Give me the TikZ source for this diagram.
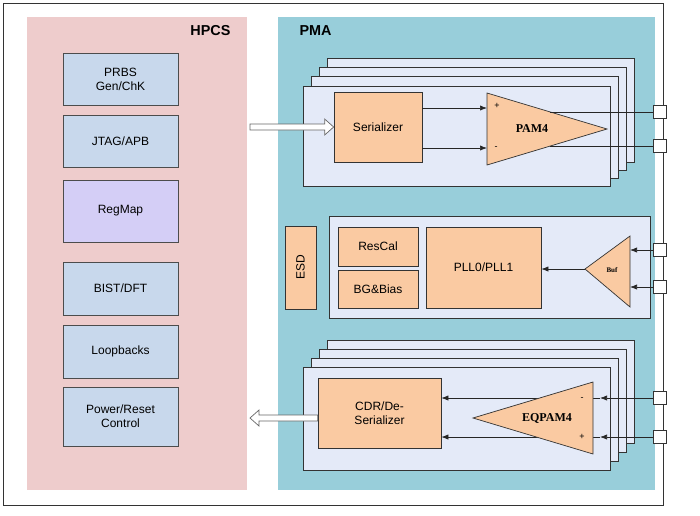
\documentclass[tikz,border=0pt]{standalone}
\usepackage{fontspec}
\setmainfont{Liberation Sans}
\newfontfamily\tms{Liberation Serif}
\usetikzlibrary{calc}
\usetikzlibrary{positioning}
\usetikzlibrary{arrows.meta}

\definecolor{hpcspink}{RGB}{238,204,204}
\definecolor{pmacyan}{RGB}{152,206,218}
\definecolor{blkblue}{RGB}{200,216,236}
\definecolor{blklav}{RGB}{212,206,246}
\definecolor{lane}{RGB}{228,234,248}
\definecolor{orng}{RGB}{250,202,162}

\tikzset{
  hblk/.style={draw=black!70, line width=0.7pt, fill=blkblue, minimum width=115pt, align=center, font=\large},
  oblk/.style={draw=black!80, line width=0.7pt, fill=orng, align=center, font=\large},
  lanebox/.style={draw=black!80, line width=0.9pt, fill=lane},
  pad/.style={draw=black!80, line width=0.7pt, fill=white, minimum size=13pt, inner sep=0pt},
  sig/.style={-{Latex[length=7pt]}, black!85, line width=0.7pt},
  bus/.style={draw=black!60, fill=white, line width=0.7pt}
}

\begin{document}
\begin{tikzpicture}[x=1pt, y=-1pt]
    \useasboundingbox (0,0) rectangle (700,515);
    \draw[black!80, line width=0.8pt] (3,3) rectangle (663,505);

    % regions
    \fill[hpcspink] (27,17) rectangle (247,490);
    \fill[pmacyan] (278,17) rectangle (655,490);
    \node[font=\Large\bfseries, anchor=north east] (hpcs) at (234,22) {HPCS};
    \node[font=\Large\bfseries, anchor=north west] (pma) at (296,22) {PMA};

    % HPCS blocks
    \node[hblk, minimum height=52pt] (prbs) at (120.5,79) {PRBS\\Gen/ChK};
    \node[hblk, minimum height=52pt] (jtag) at (120.5,141) {JTAG/APB};
    \node[hblk, fill=blklav, minimum height=62pt] (regmap) at (120.5,211) {RegMap};
    \node[hblk, minimum height=53pt] (bist) at (120.5,288.5) {BIST/DFT};
    \node[hblk, minimum height=53pt] (loop) at (120.5,351.5) {Loopbacks};
    \node[hblk, minimum height=59pt] (pwr) at (120.5,416.5) {Power/Reset\\Control};

    % TX lanes
    \foreach \k in {3,2,1,0}
      \draw[lanebox] (303+8.3*\k,86-9.3*\k) rectangle (610+8.3*\k,186-8*\k);
    \node[oblk, minimum width=88pt, minimum height=70pt] (ser) at (378,127) {Serializer};
    \coordinate (txp) at (487,108);
    \coordinate (txn) at (487,148);
    \fill[orng, draw=black!80, line width=0.7pt] (487,93) -- (607,129) -- (487,165) -- cycle;
    \node[font=\tms\bfseries\large] (pam) at (532,129) {PAM4};
    \node[font=\small] at (497,106) {+};
    \node[font=\small] at (496,148) {-};
    \node[pad] (tp1) at (660,112) {};
    \node[pad] (tp2) at (660,146) {};
    \draw[sig] (ser.east |- txp) -- (txp);
    \draw[sig] (ser.east |- txn) -- (txn);
    \draw[black!85, line width=0.7pt] (550,112) -- (tp1);
    \draw[black!85, line width=0.7pt] (550,146) -- (tp2);
    \coordinate (txbus) at (250,127);
    \draw[bus] ($(txbus)+(0,-3)$) -- ($(ser.west)+(-9,-3)$) -- ($(ser.west)+(-9,-8)$)
      -- (ser.west) -- ($(ser.west)+(-9,8)$) -- ($(ser.west)+(-9,3)$) -- ($(txbus)+(0,3)$) -- cycle;

    % PLL lane
    \draw[lanebox] (329,216) rectangle (650,318);
    \node[oblk, minimum width=31pt, minimum height=83pt] (esd) at (300.5,267.5) {\rotatebox{90}{ESD}};
    \node[oblk, minimum width=80pt, minimum height=39pt] (rescal) at (378,246.5) {ResCal};
    \node[oblk, minimum width=80pt, minimum height=38pt] (bg) at (378,289) {BG\&Bias};
    \node[oblk, minimum width=115pt, minimum height=81pt] (pll) at (483.5,267.5) {PLL0/PLL1};
    \coordinate (buftip) at (585,269);
    \fill[orng, draw=black!80, line width=0.7pt] (buftip) -- (630,236) -- (630,307) -- cycle;
    \node[font=\tms\bfseries\scriptsize] (buf) at (612,270) {Buf};
    \node[pad] (bp1) at (660,250) {};
    \node[pad] (bp2) at (660,287) {};
    \draw[sig] (bp1) -- (630,250);
    \draw[sig] (bp2) -- (630,287);
    \draw[sig] (buftip) -- (pll.east |- buftip);

    % RX lanes
    \foreach \k in {3,2,1,0}
      \draw[lanebox] (303+8.3*\k,367-9*\k) rectangle (610+8.3*\k,470-9*\k);
    \node[oblk, minimum width=123pt, minimum height=70pt] (cdr) at (379.5,413) {CDR/De-\\Serializer};
    \coordinate (rxn) at (600,398);
    \coordinate (rxp) at (600,437);
    \draw[sig] (rxn) -- (cdr.east |- rxn);
    \draw[sig] (rxp) -- (cdr.east |- rxp);
    \fill[orng, draw=black!80, line width=0.7pt] (473,418) -- (593,382) -- (593,454) -- cycle;
    \node[font=\tms\bfseries\large] (eq) at (547,418) {EQPAM4};
    \node[font=\small] at (582,399) {-};
    \node[font=\small] at (582,437) {+};
    \node[pad] (rp1) at (660,398) {};
    \node[pad] (rp2) at (660,437) {};
    \draw[sig] (rp1) -- (rxn);
    \draw[sig] (rp2) -- (rxp);
    \coordinate (rxbus) at (250,418);
    \draw[bus] ($(cdr.west |- rxbus)+(0,-3)$) -- ($(rxbus)+(9,-3)$) -- ($(rxbus)+(9,-8)$)
      -- (rxbus) -- ($(rxbus)+(9,8)$) -- ($(rxbus)+(9,3)$) -- ($(cdr.west |- rxbus)+(0,3)$) -- cycle;
\end{tikzpicture}
\end{document}
